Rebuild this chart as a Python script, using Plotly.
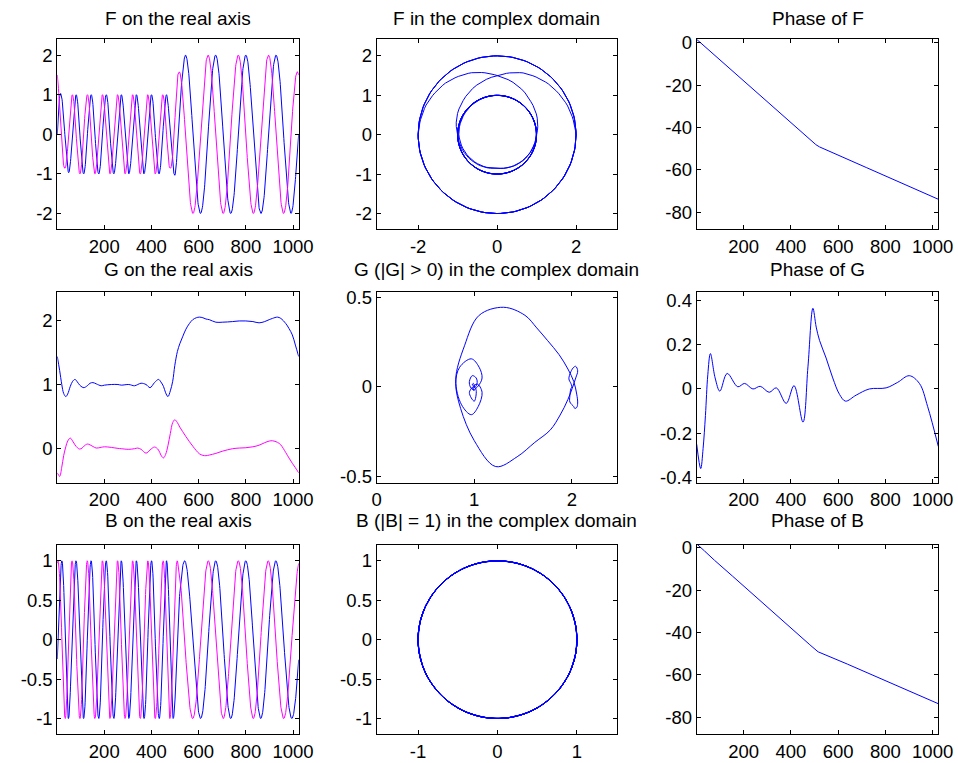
import numpy as np
import plotly.graph_objects as go

W, H = 958, 763

# ---------------- data ----------------
N_MAX = 1024
# unwrapped phase of F (rad) at knots
phaseF_n = [1, 512, 1024]
phaseF_v = [1.57, -48.70, -73.83]
# modulus of F at knots
ampF_n = [1, 9, 17, 25, 33, 41, 49, 65, 448, 464, 472, 480, 488, 496, 504, 512,
          520, 528, 536, 544, 976, 992, 1000, 1008, 1016, 1024]
ampF_v = [1.5, 1.2, 1.0, 0.92, 0.85, 0.9, 0.97, 1.0, 1.0, 1.0, 0.93, 0.85, 0.92, 1.0, 1.22, 1.5,
          1.7, 1.83, 1.93, 2.0, 2.0, 2.0, 1.95, 1.85, 1.7, 1.5]

# G (outer factor): real and imaginary parts at knots
G_n = [1, 11, 20, 28, 37, 45, 56, 66, 76, 86, 96, 106, 114, 128, 140, 152, 166, 187, 201,
       230, 258, 272, 304, 328, 342, 356, 377, 394, 413, 430, 440, 451, 460, 470, 480, 490,
       499, 510, 520, 532, 546, 561, 575, 590, 603, 618, 631, 645, 673, 700, 744, 772, 800,
       830, 856, 880, 899, 913, 934, 948, 969, 983, 997, 1010, 1024]
G_re = [1.44, 1.22, 1.0, 0.86, 0.81, 0.85, 0.97, 1.05, 1.08, 1.04, 0.99, 0.96, 0.95, 0.98,
        1.02, 1.03, 1.01, 0.98, 0.99, 1.0, 1.0, 0.99, 1.0, 0.98, 1.0, 1.02, 1.0, 0.95, 1.03,
        1.08, 1.04, 0.97, 0.87, 0.81, 0.90, 1.05, 1.3, 1.52, 1.64, 1.75, 1.87, 1.96, 2.02,
        2.05, 2.06, 2.05, 2.03, 2.02, 1.98, 1.98, 1.99, 2.0, 2.0, 1.99, 1.97, 1.99, 2.02,
        2.04, 2.06, 2.04, 1.96, 1.88, 1.78, 1.62, 1.44]
G_im = [-0.39, -0.445, -0.30, -0.12, 0.02, 0.11, 0.157, 0.11, 0.05, 0.005, -0.016, 0.0,
        0.03, 0.063, 0.05, 0.025, 0.0, 0.012, 0.02, 0.01, -0.005, -0.01, -0.02, -0.01, 0.0,
        -0.02, -0.08, -0.03, 0.016, -0.03, -0.11, -0.155, -0.10, 0.04, 0.23, 0.40, 0.445,
        0.40, 0.33, 0.26, 0.18, 0.10, 0.03, -0.04, -0.09, -0.115, -0.12, -0.11, -0.084,
        -0.05, -0.01, 0.0, 0.005, 0.02, 0.045, 0.085, 0.11, 0.115, 0.09, 0.05, -0.07,
        -0.157, -0.24, -0.31, -0.39]

# phase of G (rad) at knots
phaseG_n = [1, 18, 28, 38, 48, 59, 79, 99, 130, 175, 204, 239, 270, 308, 338, 380, 413,
            451, 472, 493, 507, 521, 549, 577, 606, 631, 676, 732, 803, 852, 901, 944, 979, 1024]
phaseG_v = [-0.25, -0.36, -0.27, -0.12, 0.064, 0.16, 0.05, -0.01, 0.07, 0.01, 0.025, 0.0,
            0.012, -0.015, 0.005, -0.065, 0.015, -0.15, 0.10, 0.365, 0.28, 0.22, 0.14, 0.05,
            -0.025, -0.055, -0.028, 0.0, 0.005, 0.03, 0.06, 0.025, -0.08, -0.26]

# ---------------- derived series ----------------
n = np.arange(1, N_MAX + 1)
phiF = np.interp(n, phaseF_n, phaseF_v)
aF = np.interp(n, ampF_n, ampF_v)
F = aF * np.exp(1j * phiF)
phiG_d = np.interp(n, phaseG_n, phaseG_v)
phiB = phiF - phiG_d
B = np.exp(1j * phiB)

BLUE = "rgb(0,0,255)"
MAG = "rgb(255,0,255)"

# ---------------- layout geometry (pixels) ----------------
cols_px = [(57.3, 298.7), (376.7, 616.7), (696.7, 938.3)]
rows_px = [(39.3, 229.3), (291.7, 482.7), (545.0, 734.3)]
title_y = [18.5, 269.5, 520.5]

titles = ["F on the real axis", "F in the complex domain", "Phase of F",
          "G on the real axis", "G (|G| > 0) in the complex domain", "Phase of G",
          "B on the real axis", "B (|B| = 1) in the complex domain", "Phase of B"]

idx_ticks = [200, 400, 600, 800, 1000]
axes_spec = [
    # (xrange, xticks, yrange, yticks)
    ([1, 1024], idx_ticks, [-2.4, 2.4], [-2, -1, 0, 1, 2]),
    ([-3.05, 3.03], [-2, 0, 2], [-2.4, 2.42], [-2, -1, 0, 1, 2]),
    ([1, 1024], idx_ticks, [-88.0, 1.6], [-80, -60, -40, -20, 0]),
    ([1, 1024], idx_ticks, [-0.545, 2.46], [0, 1, 2]),
    ([0, 2.46], [0, 1, 2], [-0.535, 0.532], [-0.5, 0, 0.5]),
    ([1, 1024], idx_ticks, [-0.424, 0.44], [-0.4, -0.2, 0, 0.2, 0.4]),
    ([1, 1024], idx_ticks, [-1.2, 1.2], [-1, -0.5, 0, 0.5, 1]),
    ([-1.52, 1.5], [-1, 0, 1], [-1.2, 1.2], [-1, -0.5, 0, 0.5, 1]),
    ([1, 1024], idx_ticks, [-88.0, 1.3], [-80, -60, -40, -20, 0]),
]


def lab(v):
    return "%g" % v


fig = go.Figure()

series = [
    [(n, F.real, BLUE), (n, F.imag, MAG)],
    [(F.real, F.imag, BLUE)],
    [(n, phiF, BLUE)],
    [(G_n, G_re, BLUE, "spline"), (G_n, G_im, MAG, "spline")],
    [(G_re, G_im, BLUE, "spline")],
    [(phaseG_n, phaseG_v, BLUE, "spline")],
    [(n, B.real, BLUE), (n, B.imag, MAG)],
    [(B.real, B.imag, BLUE)],
    [(n, phiB, BLUE)],
]

font_family = "Liberation Sans, Arial, Helvetica, sans-serif"
layout = dict(
    width=W, height=H, autosize=False, margin=dict(l=0, r=0, t=0, b=0, pad=0),
    paper_bgcolor="white", plot_bgcolor="white", showlegend=False,
    font=dict(family=font_family, size=18.5, color="black"),
)

annotations = []
for k in range(9):
    r, c = divmod(k, 3)
    xs = "" if k == 0 else str(k + 1)
    xl, xr = cols_px[c]
    yt, yb = rows_px[r]
    xrng, xt, yrng, yt_vals = axes_spec[k]
    common = dict(showline=True, linecolor="black", linewidth=1, mirror="ticks",
                  ticks="inside", ticklen=4, tickwidth=1, tickcolor="black",
                  showgrid=False, zeroline=False, automargin=False,
                  tickfont=dict(family=font_family, size=18.5, color="black"))
    layout["xaxis" + xs] = dict(common, domain=[xl / W, xr / W], range=xrng,
                                tickvals=xt, ticktext=[lab(v) for v in xt],
                                anchor="y" + xs)
    layout["yaxis" + xs] = dict(common, domain=[1 - yb / H, 1 - yt / H], range=yrng,
                                tickvals=yt_vals, ticktext=[lab(v) for v in yt_vals],
                                anchor="x" + xs)
    for s in series[k]:
        shape = s[3] if len(s) > 3 else "linear"
        fig.add_trace(go.Scatter(x=list(s[0]), y=list(s[1]), mode="lines",
                                 line=dict(color=s[2], width=1, shape=shape),
                                 xaxis="x" + xs, yaxis="y" + xs, hoverinfo="skip"))
    annotations.append(dict(text=titles[k], xref="paper", yref="paper",
                            x=(xl + xr) / 2 / W, y=1 - title_y[r] / H,
                            xanchor="center", yanchor="middle", showarrow=False,
                            font=dict(family=font_family, size=19, color="black")))

layout["annotations"] = annotations
fig.update_layout(**layout)

page_fix = ("document.body.style.margin='0';"
            "document.body.style.padding='0';"
            "document.body.style.overflow='hidden';"
            "document.documentElement.style.overflow='hidden';")
fig.write_html("out.html", config={"responsive": False, "displayModeBar": False},
               post_script=page_fix)
